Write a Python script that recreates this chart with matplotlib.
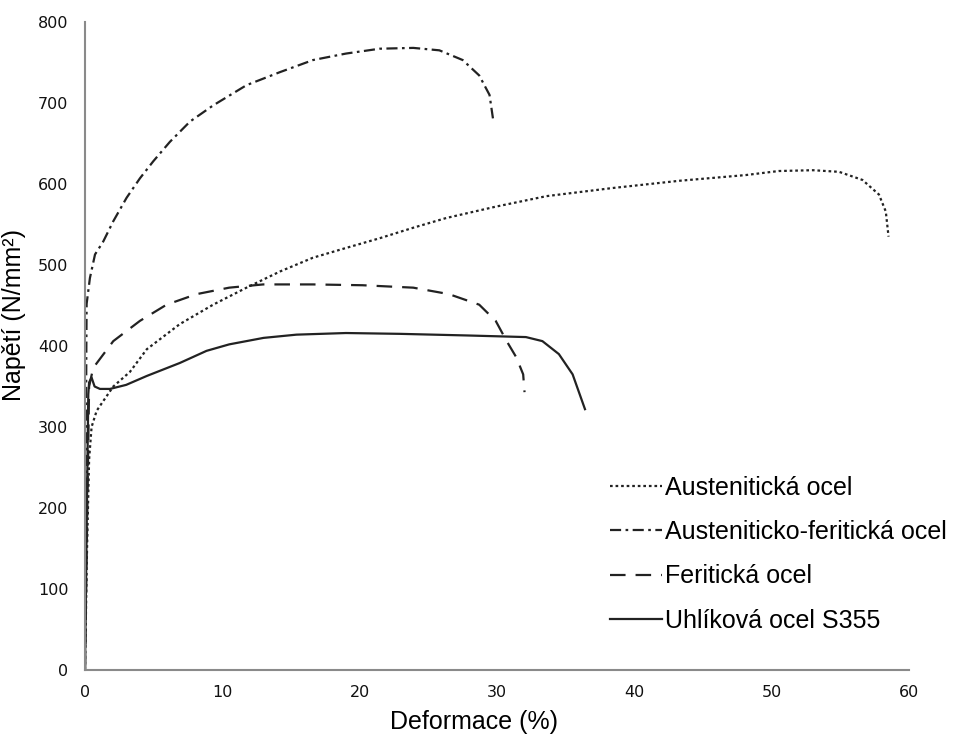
import matplotlib
matplotlib.use("Agg")
import matplotlib.pyplot as plt

# =========================
# Data
# =========================

aust_x = [0, 0.15, 0.3, 0.48, 0.85, 1.33, 2.06, 3.27, 4.5, 6.9, 9.33, 11.76, 14.2, 16.6,
          19.0, 21.45, 23.9, 26.3, 29.9, 33.6, 38.4, 43.3, 48.1, 50.5, 53.0, 54.9,
          56.6, 57.8, 58.3, 58.5]
aust_y = [0, 150, 260, 300, 320, 332, 350, 368, 396, 427, 451, 472, 492, 509,
          521, 533, 546, 558, 572, 585, 595, 604, 611, 616, 617, 615,
          605, 587, 566, 535]

duplex_x = [0, 0.1, 0.12, 0.36, 0.73, 1.33, 2.06, 3.03, 4.0, 4.97, 6.18, 7.64, 9.33,
            11.76, 14.18, 16.6, 19.0, 21.45, 23.9, 25.8, 27.5, 28.7, 29.45, 29.7]
duplex_y = [0, 400, 452, 484, 513, 529, 554, 583, 607, 628, 652, 677, 697,
            722, 738, 753, 761, 767, 768, 765, 753, 734, 710, 681]

ferr_x = [0, 0.3, 0.6, 2.06, 4.0, 5.94, 8.12, 10.5, 12.97, 16.6, 20.2, 23.9, 26.5,
          28.7, 29.9, 30.7, 31.4, 31.9, 32.0]
ferr_y = [0, 350, 373, 406, 431, 451, 464, 472, 476, 476, 475, 472, 464,
          451, 431, 406, 386, 365, 343]

s355_x = [0, 0.24, 0.3, 0.48, 0.7, 1.09, 1.82, 3.0, 4.5, 6.9, 8.85, 10.5, 13.0, 15.4,
          19.0, 22.9, 27.8, 32.1, 33.3, 34.5, 35.5, 36.4]
s355_y = [0, 340, 355, 361, 350, 347, 347, 352, 363, 379, 394, 402, 410, 414,
          416, 415, 413, 411, 406, 390, 365, 322]

labels = ["Austenitická ocel", "Austeniticko-feritická ocel",
          "Feritická ocel", "Uhlíková ocel S355"]

x_ticks = [0, 10, 20, 30, 40, 50, 60]
y_ticks = [0, 100, 200, 300, 400, 500, 600, 700, 800]

# =========================
# Plot
# =========================

LINE_COLOR = "#222222"
LW = 1.6

plt.rcParams["font.family"] = ["Liberation Sans", "DejaVu Sans"]

fig = plt.figure(figsize=(9.57, 7.40), dpi=100)
ax = fig.add_axes([0.0888, 0.0946, 0.8612, 0.8757])

ax.plot(aust_x, aust_y, color=LINE_COLOR, lw=LW, linestyle=(0, (1.2, 1.3)),
        label=labels[0])
ax.plot(duplex_x, duplex_y, color=LINE_COLOR, lw=LW, linestyle=(0, (5, 2, 1.2, 2)),
        label=labels[1])
ax.plot(ferr_x, ferr_y, color=LINE_COLOR, lw=LW, linestyle=(0, (7, 4.5)),
        label=labels[2])
ax.plot(s355_x, s355_y, color=LINE_COLOR, lw=LW, linestyle="-",
        label=labels[3])

ax.set_xlim(0, 60)
ax.set_ylim(0, 800)
ax.set_xticks(x_ticks)
ax.set_yticks(y_ticks)

tick_font = dict(family=["DejaVu Sans Condensed", "DejaVu Sans"], size=11.5)
ax.set_xticklabels([str(v) for v in x_ticks], fontdict=tick_font)
ax.set_yticklabels([str(v) for v in y_ticks], fontdict=tick_font)
ax.tick_params(axis="both", length=0, colors="#111111")
ax.tick_params(axis="y", pad=12)
ax.tick_params(axis="x", pad=11)

for side in ["top", "right"]:
    ax.spines[side].set_visible(False)
for side in ["left", "bottom"]:
    ax.spines[side].set_color("#8a8a8a")
    ax.spines[side].set_linewidth(1.5)

ax.set_xlabel("Deformace (%)", fontsize=18)
ax.set_ylabel("Napětí (N/mm²)", fontsize=18)
ax.xaxis.set_label_coords(0.4715, -0.062)
ax.yaxis.set_label_coords(-0.072, 0.548)

ax.legend(loc="upper left", bbox_to_anchor=(0.637, 0.357), bbox_transform=fig.transFigure,
          frameon=False, fontsize=18, handlelength=2.1, handletextpad=0.1,
          labelspacing=0.81, borderaxespad=0, borderpad=0)

plt.savefig("out.png", dpi=100)
plt.close(fig)
